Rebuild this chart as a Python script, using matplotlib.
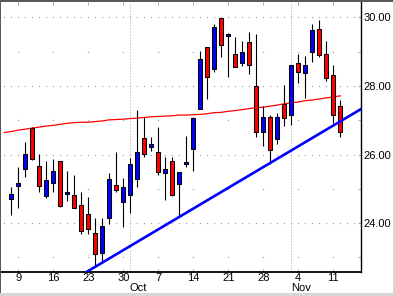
import numpy as np
import matplotlib.pyplot as plt
from matplotlib.lines import Line2D
from matplotlib.patches import Rectangle

plt.rcParams['font.family'] = ['Liberation Sans', 'DejaVu Sans']

# trading day index, 0 = Mon Sep 9
days = list(range(-1, 47))
opens = [24.69, 25.09, 25.57, 26.77, 25.66, 24.80, 25.16, 25.80, 24.84, 24.81,
         24.52, 24.26, 23.70, 23.12, 24.14, 25.10, 24.61, 24.81, 25.29, 26.49,
         26.21, 26.06, 25.45, 25.80, 25.13, 25.71, 26.15, 27.32, 29.13, 28.48,
         29.97, 29.45, 28.92, 28.66, 29.27, 28.01, 26.65, 27.10, 26.45, 27.48,
         27.14, 28.66, 28.37, 29.00, 29.65, 28.92, 28.31, 27.41]
highs = [25.04, 25.63, 26.36, 26.79, 26.01, 25.81, 25.86, 25.82, 25.52, 25.40,
         24.91, 24.77, 24.16, 24.14, 25.45, 26.06, 25.32, 25.91, 27.30, 27.10,
         26.52, 26.81, 25.93, 25.93, 25.50, 26.54, 27.10, 29.03, 29.14, 29.80,
         29.98, 29.54, 29.43, 29.30, 29.56, 29.51, 27.41, 27.15, 27.22, 28.03,
         28.61, 28.93, 28.87, 29.80, 29.92, 29.31, 28.61, 27.59]
lows = [24.24, 24.43, 25.35, 25.84, 24.92, 24.72, 24.90, 24.47, 24.65, 24.43,
        23.67, 23.69, 22.73, 22.84, 23.97, 24.90, 23.90, 24.30, 25.06, 25.93,
        26.11, 25.40, 24.67, 24.79, 24.21, 25.64, 25.53, 27.32, 27.63, 28.41,
        28.85, 28.27, 28.54, 28.58, 28.35, 26.50, 26.26, 25.71, 26.31, 26.83,
        26.86, 28.09, 27.66, 28.71, 28.83, 28.15, 26.92, 26.52]
closes = [24.84, 25.16, 26.01, 25.86, 25.09, 25.25, 25.52, 24.49, 24.90, 24.43,
          23.77, 23.82, 23.09, 23.92, 25.28, 24.96, 25.05, 25.71, 26.06, 26.01,
          26.30, 25.48, 25.59, 24.82, 25.49, 25.77, 27.06, 28.78, 28.25, 29.71,
          29.18, 29.51, 28.54, 29.00, 28.61, 26.65, 27.08, 26.13, 27.08, 27.06,
          28.60, 28.40, 28.60, 29.62, 28.89, 28.22, 27.14, 26.65]

# moving average
ma_days = list(range(-2, 47))
ma_vals = [26.64, 26.67, 26.71, 26.74, 26.77, 26.80, 26.83, 26.85, 26.88, 26.91,
           26.93, 26.94, 26.94, 26.96, 26.98, 27.01, 27.02, 27.03, 27.05, 27.06,
           27.08, 27.10, 27.11, 27.12, 27.13, 27.15, 27.15, 27.16, 27.17, 27.19,
           27.22, 27.23, 27.26, 27.28, 27.31, 27.34, 27.37, 27.38, 27.41, 27.44,
           27.48, 27.51, 27.53, 27.57, 27.59, 27.62, 27.65, 27.68, 27.71]

# trendline end points
trend_days = [9.7, 49.5]
trend_vals = [22.57, 27.39]

tick_days = [0, 5, 10, 15, 20, 25, 30, 35, 40, 45]
tick_labels = ['9', '16', '23', '30', '7', '14', '21', '28', '4', '11']
month_days = [16, 39]
month_names = ['Oct', 'Nov']
major_levels = [30, 28, 26, 24]
minor_levels = [29, 27, 25, 23]

W, H = 395, 296
fig = plt.figure(figsize=(W / 100, H / 100), dpi=100)
ax = fig.add_axes([1 / W, 23.7 / H, 360 / W, 270.3 / H])
ax.set_xlim(-2.47, 48.96)
ax.set_ylim(22.566, 30.446)

grid_c = '#a8a8a8'
# dotted grid: even levels dotted at every day, odd levels only at weeks
all_days = np.arange(-2, 49)
for lv in major_levels:
    ax.plot(all_days, [lv] * len(all_days), ls='none', marker='s', ms=0.9,
            mew=0, color=grid_c, zorder=0)
for lv in minor_levels:
    ax.plot(tick_days, [lv] * len(tick_days), ls='none', marker='s', ms=0.9,
            mew=0, color=grid_c, zorder=0)
for md in month_days:
    ax.axvline(md, color=grid_c, lw=0.72, ls=(0, (1, 2)), zorder=0)

# moving average and trendline
ax.plot(ma_days, ma_vals, color='#ff0000', lw=0.9, zorder=2)
ax.plot(trend_days, trend_vals, color='#0000ff', lw=1.9, zorder=4)

# candles
o = np.array(opens)
c = np.array(closes)
cols = ['#0000ff' if cc > oo else '#ff0000' for oo, cc in zip(o, c)]
ax.vlines(days, lows, highs, color='black', lw=0.8, zorder=3)
ax.bar(days, np.abs(c - o), bottom=np.minimum(o, c), width=0.58, color=cols,
       edgecolor='black', linewidth=0.75, zorder=3)

# axes styling
for s in ['left', 'top']:
    ax.spines[s].set_visible(False)
ax.spines['right'].set_linewidth(1.0)
ax.spines['bottom'].set_linewidth(1.3)

ax.yaxis.tick_right()
ax.set_yticks(major_levels)
ax.set_yticklabels(['%.2f' % v for v in major_levels])
ax.set_yticks(minor_levels, minor=True)
ax.tick_params(axis='y', which='both', direction='in', length=2, width=0.7,
               color=grid_c, labelsize=8, pad=1.5)

ax.set_xticks(tick_days)
ax.set_xticklabels(tick_labels)
ax.tick_params(axis='x', which='both', direction='in', length=2, width=0.7,
               color=grid_c, labelsize=8, pad=0.5, top=True)

for md, name in zip(month_days, month_names):
    ax.annotate(name, xy=(md, 0), xycoords=('data', 'axes fraction'),
                xytext=(-0.5, -16), textcoords='offset pixels',
                ha='left', va='center', fontsize=8)

# window frame
fig.add_artist(Rectangle((0, 1 - 1.6 / H), 1, 1.6 / H, transform=fig.transFigure,
                         color='#5a5a5a', lw=0))
fig.add_artist(Rectangle((0, 0), 1.4 / W, 1, transform=fig.transFigure,
                         color='#5a5a5a', lw=0))
fig.add_artist(Rectangle((0, 0), 1, 3 / H, transform=fig.transFigure,
                         color='#d6d6d6', lw=0))
fig.add_artist(Rectangle((1 - 2 / W, 0), 2 / W, 1, transform=fig.transFigure,
                         color='#d6d6d6', lw=0))

fig.savefig('out.png', dpi=100)
